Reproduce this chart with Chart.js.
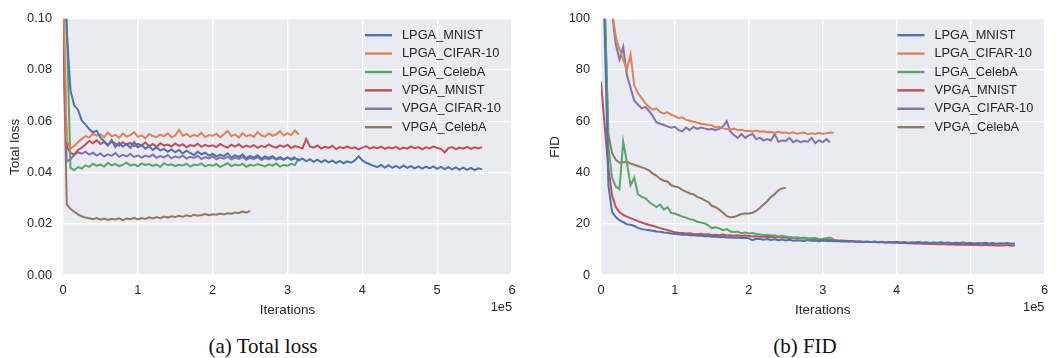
<!DOCTYPE html>
<html>
<head>
<meta charset="utf-8">
<script src="https://cdn.jsdelivr.net/npm/chart.js@4"></script>
<style>
  html, body { margin: 0; padding: 0; background: #ffffff; }
  body { width: 1056px; height: 358px; position: relative; overflow: hidden; }
  canvas { position: absolute; top: 0; }
  #loss { left: 0; }
  #fid { left: 540px; }
  .caption {
    position: absolute; top: 334px; width: 300px; text-align: center;
    font-family: "Liberation Serif", "Times New Roman", serif; font-size: 21px; color: #111;
  }
</style>
</head>
<body>
<canvas id="loss" width="530" height="320"></canvas>
<canvas id="fid" width="516" height="320"></canvas>
<div class="caption" style="left:113px">(a) Total loss</div>
<div class="caption" style="left:655px">(b) FID</div>
<script>
// one sample every 5000 iterations, x in units of 1e5
const X_STEP = 0.05;

const names = ["LPGA_MNIST", "LPGA_CIFAR-10", "LPGA_CelebA", "VPGA_MNIST", "VPGA_CIFAR-10", "VPGA_CelebA"];
const colors = ["#4C72B0", "#DD8452", "#55A868", "#C44E52", "#8172B3", "#937860"];

const xTicks = [0, 1, 2, 3, 4, 5, 6];
const lossTicks = [0.00, 0.02, 0.04, 0.06, 0.08, 0.10];
const fidTicks = [0, 20, 40, 60, 80, 100];

// ---- Total loss ----
const lossLpgaMnist = [0.140, 0.0950, 0.0720, 0.0662, 0.0645, 0.0603, 0.0588, 0.0569, 0.0557, 0.0563,
  0.0536, 0.0522, 0.0505, 0.0527, 0.0499, 0.0516, 0.0501, 0.0511, 0.0496, 0.0519,
  0.0498, 0.0507, 0.0493, 0.0502, 0.0488, 0.0498, 0.0486, 0.0492, 0.0481, 0.0490,
  0.0479, 0.0488, 0.0474, 0.0485, 0.0476, 0.0468, 0.0481, 0.0471, 0.0477, 0.0466,
  0.0473, 0.0462, 0.0470, 0.0464, 0.0475, 0.0459, 0.0467, 0.0461, 0.0470, 0.0456,
  0.0465, 0.0458, 0.0467, 0.0454, 0.0463, 0.0457, 0.0464, 0.0452, 0.0460, 0.0451,
  0.0459, 0.0449, 0.0456, 0.0447, 0.0454, 0.0444, 0.0452, 0.0442, 0.0450, 0.0440,
  0.0448, 0.0439, 0.0446, 0.0437, 0.0445, 0.0436, 0.0443, 0.0438, 0.0447, 0.0463,
  0.0447, 0.0438, 0.0432, 0.0426, 0.0421, 0.0429, 0.0419, 0.0428, 0.0418, 0.0426,
  0.0417, 0.0427, 0.0418, 0.0425, 0.0416, 0.0424, 0.0415, 0.0423, 0.0416, 0.0424,
  0.0414, 0.0422, 0.0413, 0.0421, 0.0412, 0.0420, 0.0411, 0.0419, 0.0410, 0.0418,
  0.0409, 0.0416, 0.0412];
const lossLpgaCifar = [0.120, 0.0525, 0.0492, 0.0503, 0.0518, 0.0531, 0.0542, 0.0536, 0.0551, 0.0544,
  0.0549, 0.0538, 0.0556, 0.0541, 0.0547, 0.0535, 0.0552, 0.0540, 0.0546, 0.0557,
  0.0539, 0.0545, 0.0533, 0.0550, 0.0542, 0.0538, 0.0548, 0.0541, 0.0553, 0.0537,
  0.0544, 0.0566, 0.0543, 0.0550, 0.0539, 0.0547, 0.0541, 0.0555, 0.0538, 0.0546,
  0.0543, 0.0551, 0.0537, 0.0549, 0.0562, 0.0542, 0.0548, 0.0536, 0.0553, 0.0541,
  0.0547, 0.0539, 0.0558, 0.0545, 0.0540, 0.0552, 0.0543, 0.0549, 0.0561, 0.0544,
  0.0553, 0.0546, 0.0564, 0.0548];
const lossLpgaCeleba = [0.140, 0.0980, 0.0418, 0.0409, 0.0421, 0.0415, 0.0428, 0.0422, 0.0434, 0.0426,
  0.0431, 0.0423, 0.0437, 0.0428, 0.0433, 0.0425, 0.0430, 0.0438, 0.0427, 0.0432,
  0.0424, 0.0435, 0.0429, 0.0433, 0.0426, 0.0431, 0.0422, 0.0436, 0.0428, 0.0432,
  0.0425, 0.0430, 0.0427, 0.0434, 0.0423, 0.0431, 0.0428, 0.0435, 0.0424, 0.0430,
  0.0426, 0.0433, 0.0421, 0.0429, 0.0436, 0.0425, 0.0431, 0.0427, 0.0434, 0.0422,
  0.0430, 0.0426, 0.0433, 0.0428, 0.0424, 0.0432, 0.0427, 0.0435, 0.0423, 0.0430,
  0.0426, 0.0434, 0.0429, 0.0455];
const lossVpgaMnist = [0.105, 0.0502, 0.0476, 0.0470, 0.0488, 0.0497, 0.0509, 0.0523, 0.0514, 0.0526,
  0.0511, 0.0519, 0.0507, 0.0521, 0.0513, 0.0504, 0.0518, 0.0509, 0.0515, 0.0502,
  0.0512, 0.0506, 0.0517, 0.0503, 0.0511, 0.0499, 0.0514, 0.0505, 0.0509, 0.0501,
  0.0513, 0.0504, 0.0510, 0.0498, 0.0507, 0.0503, 0.0512, 0.0500, 0.0508, 0.0502,
  0.0506, 0.0499, 0.0511, 0.0503, 0.0497, 0.0508, 0.0501, 0.0510, 0.0498, 0.0505,
  0.0500, 0.0507, 0.0496, 0.0504, 0.0499, 0.0509, 0.0501, 0.0497, 0.0506, 0.0500,
  0.0508, 0.0495, 0.0503, 0.0499, 0.0494, 0.0531, 0.0502, 0.0497, 0.0505, 0.0493,
  0.0500, 0.0496, 0.0504, 0.0491, 0.0499, 0.0495, 0.0502, 0.0494, 0.0498, 0.0490,
  0.0497, 0.0503, 0.0493, 0.0499, 0.0495, 0.0501, 0.0492, 0.0498, 0.0494, 0.0500,
  0.0491, 0.0497, 0.0493, 0.0502, 0.0495, 0.0499, 0.0490, 0.0498, 0.0494, 0.0501,
  0.0496, 0.0492, 0.0478, 0.0495, 0.0499, 0.0491, 0.0497, 0.0493, 0.0500, 0.0492,
  0.0498, 0.0494, 0.0499];
const lossVpgaCifar = [0.092, 0.0443, 0.0452, 0.0468, 0.0479, 0.0473, 0.0481, 0.0470, 0.0477, 0.0466,
  0.0474, 0.0462, 0.0471, 0.0465, 0.0476, 0.0461, 0.0469, 0.0463, 0.0472, 0.0460,
  0.0467, 0.0458, 0.0466, 0.0461, 0.0470, 0.0457, 0.0464, 0.0459, 0.0468, 0.0455,
  0.0463, 0.0458, 0.0466, 0.0454, 0.0461, 0.0457, 0.0465, 0.0452, 0.0460, 0.0455,
  0.0463, 0.0451, 0.0459, 0.0454, 0.0462, 0.0450, 0.0458, 0.0453, 0.0461, 0.0449,
  0.0457, 0.0452, 0.0460, 0.0448, 0.0456, 0.0451, 0.0459, 0.0450, 0.0455, 0.0449,
  0.0458, 0.0453, 0.0461];
const lossVpgaCeleba = [0.100, 0.0275, 0.0258, 0.0247, 0.0236, 0.0229, 0.0224, 0.0221, 0.0218, 0.0222,
  0.0216, 0.0220, 0.0215, 0.0219, 0.0217, 0.0221, 0.0214, 0.0220, 0.0218, 0.0223,
  0.0217, 0.0222, 0.0219, 0.0225, 0.0221, 0.0226, 0.0222, 0.0228, 0.0224, 0.0229,
  0.0226, 0.0231, 0.0227, 0.0233, 0.0229, 0.0235, 0.0231, 0.0234, 0.0238, 0.0233,
  0.0237, 0.0235, 0.0240, 0.0236, 0.0241, 0.0239, 0.0244, 0.0241, 0.0248, 0.0243,
  0.0250];

// ---- FID ----
const fidLpgaMnist = [140, 95, 35, 24.5, 22.6, 21.4, 20.6, 19.8, 19.6, 19.1,
  18.4, 17.9, 17.7, 17.5, 17.3, 17.0, 16.9, 16.6, 16.5, 16.2,
  16.0, 15.9, 15.7, 15.8, 15.5, 15.6, 15.3, 15.4, 15.1, 15.2,
  14.9, 15.0, 14.7, 14.9, 14.6, 14.7, 14.5, 14.6, 14.4, 14.5,
  14.3, 13.6, 14.1, 14.0, 13.8, 14.0, 13.7, 13.9, 13.6, 13.8,
  13.5, 13.7, 13.4, 13.6, 13.5, 13.3, 13.6, 13.4, 13.5, 13.2,
  13.5, 13.3, 13.4, 13.2, 13.3, 13.1, 13.2, 13.0, 13.2, 12.9,
  13.1, 12.8, 13.0, 12.9, 13.1, 12.8, 13.0, 12.7, 12.9, 12.8,
  13.0, 12.7, 12.9, 12.6, 12.8, 12.7, 12.9, 12.6, 12.8, 12.5,
  12.7, 12.6, 12.8, 12.5, 12.7, 12.4, 12.6, 12.5, 12.7, 12.4,
  12.6, 12.3, 12.5, 12.4, 12.6, 12.3, 12.5, 12.2, 12.4, 12.3,
  12.5, 12.2, 12.3];
const fidLpgaCifar = [160, 140, 120, 103, 93, 88, 84, 80, 86, 74,
  71, 69, 67, 65.5, 64.5, 65, 63.5, 63, 63.5, 62.5,
  62.0, 61.2, 61.5, 60.5, 60.2, 59.8, 59.5, 59.0, 58.8, 58.5,
  58.4, 57.6, 57.8, 57.2, 57.0, 56.8, 57.1, 56.5, 56.7, 56.2,
  56.3, 56.0, 56.4, 55.9, 56.1, 55.7, 55.8, 55.4, 55.9, 55.5,
  55.6, 55.2, 55.7, 55.1, 55.4, 55.6, 54.9, 55.3, 55.0, 55.4,
  55.1, 55.3, 55.6, 55.5];
const fidLpgaCeleba = [140, 110, 50, 38, 34.5, 33.5, 52, 44, 35, 38,
  31.5, 30.5, 30.0, 28.5, 27.5, 26.5, 27.5, 25.5, 26.5, 24.2,
  24.0, 23.4, 22.8, 22.4, 21.8, 21.5, 20.8, 20.5, 20.2, 19.4,
  18.3, 18.6, 18.2, 17.5, 17.9, 17.0, 16.8, 16.9, 16.3, 16.6,
  16.2, 16.4, 16.0, 15.8, 15.5, 15.7, 15.4, 15.5, 15.0, 15.3,
  15.0, 14.8, 14.6, 14.7, 14.4, 14.6, 14.2, 14.3, 14.4, 14.0,
  14.1, 14.3, 14.6, 13.8];
const fidVpgaMnist = [75.5, 58, 42, 31, 26.5, 24.5, 23.5, 22.8, 22.2, 21.6,
  21.0, 20.5, 20.0, 19.5, 19.2, 18.7, 18.3, 17.9, 17.5, 17.1,
  16.7, 16.5, 16.4, 16.2, 16.3, 16.0, 15.9, 16.1, 15.8, 15.9,
  15.6, 15.7, 15.5, 15.8, 15.4, 15.5, 15.3, 15.5, 15.2, 15.4,
  15.2, 15.0, 15.1, 14.9, 15.0, 14.8, 14.9, 14.7, 14.8, 14.6,
  14.6, 14.4, 14.5, 14.3, 14.4, 14.2, 14.2, 14.0, 14.1, 13.9,
  13.8, 13.8, 13.6, 13.7, 13.5, 13.5, 13.4, 13.3, 13.3, 13.1,
  13.1, 13.0, 13.0, 12.9, 12.9, 12.8, 12.8, 12.7, 12.7, 12.6,
  12.6, 12.5, 12.5, 12.4, 12.4, 12.3, 12.4, 12.2, 12.3, 12.1,
  12.2, 12.0, 12.1, 12.0, 11.9, 12.0, 11.8, 11.9, 11.8, 11.9,
  11.7, 11.8, 11.7, 11.6, 11.8, 11.6, 11.7, 11.5, 11.6, 11.5,
  11.7, 11.4, 11.5];
const fidVpgaCifar = [160, 140, 120, 102, 90, 84, 89, 78, 73, 68,
  66.5, 65, 65.5, 64, 62, 59.5, 59, 58.5, 58, 57.5,
  57.8, 56.5, 56, 57.5, 56.5, 57.8, 57, 57.5, 57.2, 56.8,
  57, 56.5, 57, 58, 60, 56, 54.5, 53.5, 55, 53.5,
  54.5, 55, 53, 53.5, 52.5, 53, 52.5, 55, 52, 52.5,
  52.3, 53.5, 51.8, 52.5, 51.8, 52.3, 52, 53.5, 51.5, 52.5,
  51.8, 53, 51.8];
const fidVpgaCeleba = [140, 105, 55, 47.5, 45, 43.8, 44, 44.2, 43.5, 43,
  42.5, 42, 41.5, 40.8, 39.5, 38.8, 37.5, 36.8, 36.5, 35,
  34.5, 34.2, 33.2, 32.5, 31.8, 31.5, 30.5, 30, 29.2, 28.5,
  27, 26.5, 25.5, 24.3, 23, 22.5, 22.6, 23.2, 23.8, 24,
  24, 24.3, 25, 26.2, 27.5, 28.8, 30.5, 31.5, 33, 33.8,
  34];

const lossSeries = [lossLpgaMnist, lossLpgaCifar, lossLpgaCeleba, lossVpgaMnist, lossVpgaCifar, lossVpgaCeleba];
const fidSeries = [fidLpgaMnist, fidLpgaCifar, fidLpgaCeleba, fidVpgaMnist, fidVpgaCifar, fidVpgaCeleba];

const TEXT = "#262626";
Chart.defaults.font.family = '"Liberation Sans", Arial, sans-serif';
Chart.defaults.font.size = 12.8;
Chart.defaults.color = TEXT;

function toPoints(ys) {
  return ys.map((y, i) => ({ x: +(i * X_STEP).toFixed(2), y: y }));
}

// seaborn-ish grey panel behind the grid
const panelBg = {
  id: "panelBg",
  beforeDraw(chart) {
    const { ctx, chartArea: a } = chart;
    ctx.save();
    ctx.fillStyle = "#EAEAF2";
    ctx.fillRect(a.left, a.top, a.width, a.height);
    ctx.restore();
  },
};

// legend drawn inside the top right corner, plus the "1e5" offset text
const insideLegend = {
  id: "insideLegend",
  afterDraw(chart) {
    const { ctx, chartArea: a } = chart;
    ctx.save();
    ctx.font = '12.8px "Liberation Sans", Arial, sans-serif';
    ctx.textBaseline = "middle";
    chart.data.datasets.forEach((ds, i) => {
      const y = a.top + 16.5 + i * 18.4;
      ctx.strokeStyle = ds.borderColor;
      ctx.lineWidth = 2.4;
      ctx.beginPath();
      ctx.moveTo(a.right - 147, y);
      ctx.lineTo(a.right - 120, y);
      ctx.stroke();
      ctx.fillStyle = TEXT;
      ctx.textAlign = "left";
      ctx.fillText(ds.label, a.right - 110, y);
    });
    ctx.textAlign = "right";
    ctx.fillText("1e5", a.right, a.bottom + 32);
    ctx.restore();
  },
};

function makeChart(id, series, yMax, yTitle, yFmt, yWidth, padRight) {
  return new Chart(document.getElementById(id), {
    type: "line",
    data: {
      datasets: series.map((ys, i) => ({
        label: names[i],
        data: toPoints(ys),
        borderColor: colors[i],
        borderWidth: 2,
        pointRadius: 0,
        tension: 0,
        fill: false,
      })),
    },
    options: {
      responsive: false,
      animation: false,
      events: [],
      layout: { padding: { top: 14, right: padRight, bottom: 0, left: 0 } },
      plugins: { legend: { display: false }, tooltip: { enabled: false } },
      scales: {
        x: {
          type: "linear",
          min: xTicks[0],
          max: xTicks[xTicks.length - 1],
          afterBuildTicks: (s) => { s.ticks = xTicks.map((v) => ({ value: v })); },
          afterFit: (s) => { s.height = 45; },
          ticks: { padding: 8, callback: (v) => String(v) },
          grid: { color: "#ffffff", lineWidth: 1.3, drawTicks: false },
          border: { display: false },
          title: { display: true, text: "Iterations", font: { size: 13.5 }, padding: { top: 2, bottom: 2 } },
        },
        y: {
          type: "linear",
          min: 0,
          max: yMax,
          afterBuildTicks: (s) => { s.ticks = (yMax === 100 ? fidTicks : lossTicks).map((v) => ({ value: v })); },
          afterFit: (s) => { s.width = yWidth; },
          ticks: { padding: 11, callback: yFmt },
          grid: { color: "#ffffff", lineWidth: 1.3, drawTicks: false },
          border: { display: false },
          title: { display: true, text: yTitle, font: { size: 13.5 }, padding: { top: 7, bottom: 0 } },
        },
      },
    },
    plugins: [panelBg, insideLegend],
  });
}

makeChart("loss", lossSeries, 0.1, "Total loss", (v) => v.toFixed(2), 63, 18);
makeChart("fid", fidSeries, 100, "FID", (v) => String(v), 61, 3);
</script>
</body>
</html>
